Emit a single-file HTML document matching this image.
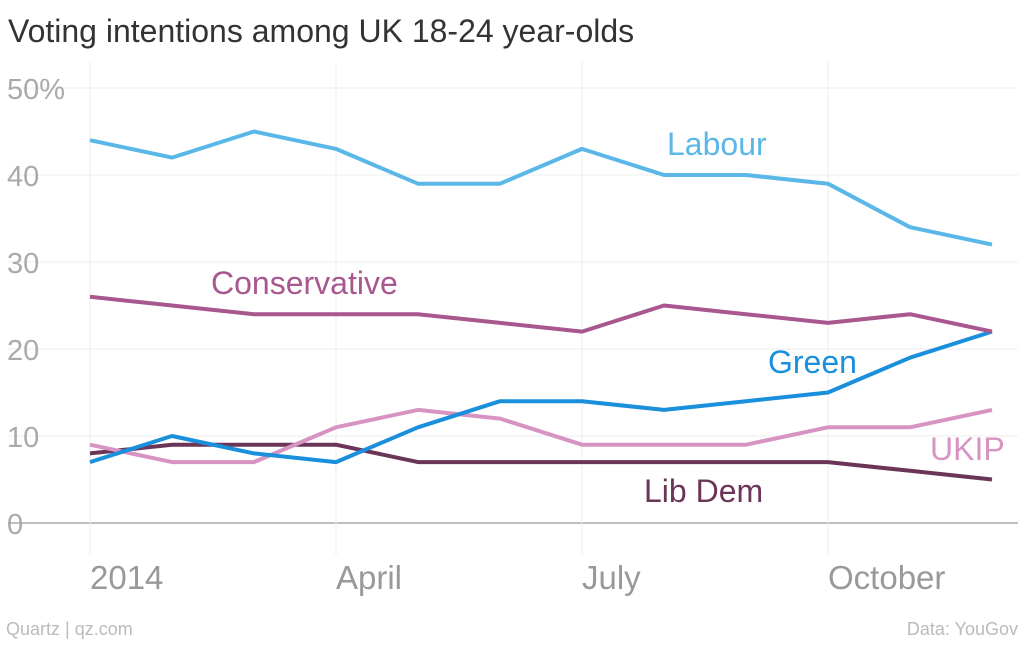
<!DOCTYPE html>
<html><head><meta charset="utf-8"><style>
html,body{margin:0;padding:0;background:#fff;}
body{width:1024px;height:640px;overflow:hidden;font-family:"Liberation Sans",sans-serif;}
</style></head><body>
<svg id="chart" width="1024" height="640" xmlns="http://www.w3.org/2000/svg" font-family="Liberation Sans, sans-serif">
<text x="8" y="42" font-size="32" fill="#333">Voting intentions among UK 18-24 year-olds</text>
<g id="grid"></g>
<g id="lines"></g>
<g id="labels"></g>
<text x="6" y="635" font-size="18" fill="#bbb">Quartz | qz.com</text>
<text x="1018" y="635" font-size="18" fill="#bbb" text-anchor="end">Data: YouGov</text>
</svg>
<script>
const months = [0,1,2,3,4,5,6,7,8,9,10,11];
const labour = [44,42,45,43,39,39,43,40,40,39,34,32];
const conservative = [26,25,24,24,24,23,22,25,24,23,24,22];
const green = [7,10,8,7,11,14,14,13,14,15,19,22];
const ukip = [9,7,7,11,13,12,9,9,9,11,11,13];
const libdem = [8,9,9,9,7,7,7,7,7,7,6,5];
const yTicks = [0,10,20,30,40,50];
const yTickLabels = ["0","10","20","30","40","50%"];
const xTicks = [0,3,6,9];
const xTickLabels = ["2014","April","July","October"];

const NS="http://www.w3.org/2000/svg";
const x = m => 90 + m*82;
const y = v => 523 - v*8.7;
function mk(tag, attrs, parent){const e=document.createElementNS(NS,tag);for(const k in attrs)e.setAttribute(k,attrs[k]);parent.appendChild(e);return e;}
const grid=document.getElementById('grid'), lines=document.getElementById('lines'), labels=document.getElementById('labels');

yTicks.forEach((t,i)=>{
  const l=mk('line',{x1:8,x2:1018,y1:y(t),y2:y(t),stroke:t===0?'#999':'#ececec','stroke-width':t===0?1.2:1},grid);
  
  
  const tx=mk('text',{x:7,y:y(t)+11,'font-size':29,fill:'#aaa'},grid);
  tx.textContent=yTickLabels[i];
  
  
});
xTicks.forEach((t,i)=>{
  const l=mk('line',{x1:x(t),x2:x(t),y1:62,y2:555,stroke:'#ececec','stroke-width':1},grid);
  
  
  const tx=mk('text',{x:x(t),y:589,'font-size':33,fill:'#999'},grid);
  tx.textContent=xTickLabels[i];
  
  
});

const series=[
  {name:'lib-dem',data:libdem,color:'#6b3558',label:'Lib Dem',lx:644,ly:502},
  {name:'ukip',data:ukip,color:'#d793c2',label:'UKIP',lx:930,ly:460},
  {name:'green',data:green,color:'#1a8fdb',label:'Green',lx:768,ly:373},
  {name:'conservative',data:conservative,color:'#a8578f',label:'Conservative',lx:211,ly:294},
  {name:'labour',data:labour,color:'#5ab7e8',label:'Labour',lx:667,ly:155}
];
series.forEach(s=>{
  const p=mk('polyline',{points:months.map((m,i)=>x(m)+','+y(s.data[i])).join(' '),fill:'none',stroke:s.color,'stroke-width':4,'stroke-linejoin':'round'},lines);
  
  
  const t=mk('text',{x:s.lx,y:s.ly,'font-size':32,fill:s.color},labels);
  t.textContent=s.label;
  
  
});
</script>
</body></html>
